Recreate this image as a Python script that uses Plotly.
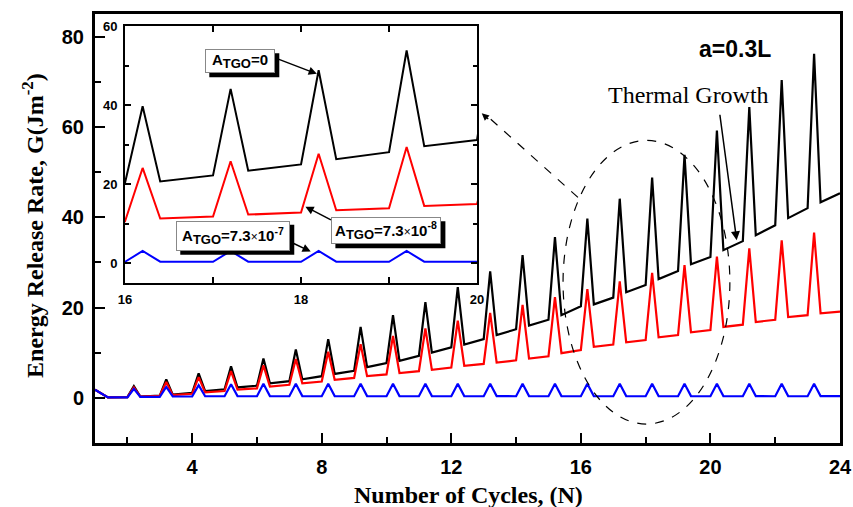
import plotly.graph_objects as go

# Cycle numbers; each cycle has a base point (n.0), a peak (n.2) and a drop (n.4)
cycles = [2, 3, 4, 5, 6, 7, 8, 9, 10, 11, 12, 13, 14, 15, 16, 17, 18, 19, 20, 21, 22, 23]
peak_offset = 0.2
drop_offset = 0.4

start_x = [1.0, 1.4]
end_x = 24.0

# A_TGO = 0
black_start = [1.8, 0.1]
black_pre = [0.15, 0.5, 1.1, 1.9, 2.7, 3.7, 4.8, 6.0, 7.7, 9.3, 11.2, 13.0, 15.2, 17.3,
             20.3, 22.2, 25.0, 28.1, 31.2, 34.7, 38.2, 42.0]
black_peak = [2.6, 4.1, 5.4, 7.0, 8.7, 10.7, 13.0, 15.7, 18.3, 21.2, 24.5, 28.0, 31.6, 35.6,
              39.7, 44.1, 48.8, 53.8, 59.2, 64.4, 70.4, 76.2]
black_post = [0.3, 0.7, 1.5, 2.3, 3.2, 4.1, 5.3, 6.8, 8.2, 10.0, 11.8, 13.9, 16.0, 18.3,
              20.7, 23.4, 26.3, 29.6, 32.7, 36.0, 39.8, 43.3]
black_end = 45.3

# A_TGO = 7.3e-8
red_start = [1.8, 0.1]
red_pre = [0.15, 0.45, 0.9, 1.5, 2.1, 2.9, 3.6, 4.4, 5.2, 5.9, 6.7, 7.5, 8.3, 9.2,
           10.6, 11.8, 12.8, 13.9, 15.0, 16.2, 17.3, 18.3]
red_peak = [2.3, 3.5, 4.6, 5.9, 7.2, 8.6, 10.2, 11.9, 13.7, 15.4, 17.1, 18.8, 20.6, 22.3,
            24.1, 25.8, 27.7, 29.4, 31.3, 33.1, 34.9, 36.6]
red_post = [0.25, 0.6, 1.2, 1.8, 2.5, 3.2, 4.0, 4.8, 5.5, 6.2, 7.1, 7.8, 8.7, 9.9,
            11.3, 12.3, 13.4, 14.5, 15.7, 16.8, 17.9, 18.7]
red_end = 19.1

# A_TGO = 7.3e-7
blue_start = [1.8, 0.1]
blue_pre = [0.1, 0.2, 0.3, 0.35, 0.35, 0.35, 0.35, 0.35, 0.35, 0.35, 0.35, 0.35, 0.35, 0.35,
            0.35, 0.35, 0.35, 0.35, 0.35, 0.35, 0.35, 0.35]
blue_peak = [2.0, 2.4, 2.8, 3.0, 3.1, 3.1, 3.1, 3.1, 3.1, 3.1, 3.1, 3.1, 3.1, 3.1,
             3.1, 3.1, 3.1, 3.1, 3.1, 3.1, 3.1, 3.1]
blue_post = [0.2, 0.3, 0.35, 0.4, 0.4, 0.4, 0.4, 0.4, 0.4, 0.4, 0.4, 0.4, 0.4, 0.4,
             0.4, 0.4, 0.4, 0.4, 0.4, 0.4, 0.4, 0.4]
blue_end = 0.4


def series(start, pre, peak, post, end):
    xs, ys = list(start_x), list(start)
    for n, a, b, c in zip(cycles, pre, peak, post):
        xs += [n, n + peak_offset, n + drop_offset]
        ys += [a, b, c]
    xs.append(end_x)
    ys.append(end)
    return xs, ys


curves = [
    (series(black_start, black_pre, black_peak, black_post, black_end), "#000000", "A_TGO=0"),
    (series(red_start, red_pre, red_peak, red_post, red_end), "#ff0000", "A_TGO=7.3e-8"),
    (series(blue_start, blue_pre, blue_peak, blue_post, blue_end), "#0000ff", "A_TGO=7.3e-7"),
]

fig = go.Figure()
for (xs, ys), color, name in curves:
    fig.add_trace(go.Scatter(x=xs, y=ys, mode="lines", name=name,
                             line=dict(color=color, width=2.2), xaxis="x", yaxis="y"))
for (xs, ys), color, name in curves:
    fig.add_trace(go.Scatter(x=xs, y=ys, mode="lines", name=name + " (zoom)",
                             line=dict(color=color, width=2), xaxis="x2", yaxis="y2"))

tick_font = dict(family="Liberation Sans, Arial", size=20, color="black", weight="bold")
inset_font = dict(family="Liberation Sans, Arial", size=13, color="black", weight="bold")
serif_bold = dict(family="Liberation Serif, Times New Roman", size=24, color="black", weight="bold")

fig.update_layout(
    width=853, height=507,
    margin=dict(l=95, r=13, t=14, b=64, autoexpand=False),
    paper_bgcolor="white", plot_bgcolor="white",
    showlegend=False,
    xaxis=dict(range=[1, 24], tick0=0, dtick=4, ticks="inside", ticklen=10, tickwidth=2,
               tickcolor="black", showline=True, linewidth=3, linecolor="black", mirror=True,
               showgrid=False, zeroline=False, tickfont=tick_font, ticklabelstandoff=4,
               minor=dict(dtick=2, tick0=0, ticks="inside", ticklen=6, tickwidth=2,
                          tickcolor="black", showgrid=False)),
    yaxis=dict(range=[-10, 85], tick0=0, dtick=20, ticks="inside", ticklen=10, tickwidth=2,
               tickcolor="black", showline=True, linewidth=3, linecolor="black", mirror=True,
               showgrid=False, zeroline=False, tickfont=tick_font, ticklabelstandoff=4,
               minor=dict(dtick=10, tick0=0, ticks="inside", ticklen=6, tickwidth=2,
                          tickcolor="black", showgrid=False)),
    xaxis2=dict(domain=[0.0403, 0.5128], anchor="y2", range=[16, 20], tick0=16, dtick=2,
                ticks="inside", ticklen=6, tickwidth=1.5, tickcolor="black",
                showline=True, linewidth=2, linecolor="black", mirror="ticks",
                showgrid=False, zeroline=False, tickfont=inset_font, ticklabelstandoff=3,
                minor=dict(dtick=1, tick0=16, ticks="inside", ticklen=6, tickwidth=1.5,
                           tickcolor="black", showgrid=False)),
    yaxis2=dict(domain=[0.373, 0.972], anchor="x2", range=[-5, 60], tick0=0, dtick=20,
                ticks="inside", ticklen=6, tickwidth=1.5, tickcolor="black",
                showline=True, linewidth=2, linecolor="black", mirror="ticks",
                showgrid=False, zeroline=False, tickfont=inset_font, ticklabelstandoff=3,
                minor=dict(dtick=10, tick0=0, ticks="inside", ticklen=4, tickwidth=1.5,
                           tickcolor="black", showgrid=False)),
)

# Dashed ellipse around the zoomed cycles
fig.add_shape(type="circle", xref="x", yref="y", x0=15.45, x1=20.6, y0=-5.8, y1=57.0,
              line=dict(color="black", width=1.2, dash="dash"))
# Dashed leader from the ellipse to the inset
fig.add_shape(type="line", xref="x", yref="y", x0=15.91, y0=44.4, x1=13.2, y1=61.8,
              line=dict(color="black", width=1.2, dash="dash"))

annotations = []
annotations.append(dict(x=12.94, y=63.0, xref="x", yref="y", text="", showarrow=True,
                        ax=8, ay=7, arrowhead=2, arrowsize=1.2, arrowwidth=1.2,
                        arrowcolor="black"))

# Thermal growth label and arrow
annotations.append(dict(x=19.33, y=67.0, xref="x", yref="y", text="Thermal Growth",
                        showarrow=False,
                        font=dict(family="Liberation Serif, Times New Roman", size=24,
                                  color="black")))
annotations.append(dict(x=20.81, y=34.9, xref="x", yref="y", text="", showarrow=True,
                        ax=-17, ay=-127, arrowhead=2, arrowsize=1.2, arrowwidth=1.5,
                        arrowcolor="black"))
annotations.append(dict(x=20.75, y=77.3, xref="x", yref="y", text="a=0.3L", showarrow=False,
                        font=dict(family="Liberation Sans, Arial", size=23, color="black",
                                  weight="bold")))

# Axis titles
annotations.append(dict(x=0.5007, y=-0.122, xref="paper", yref="paper",
                        text="Number of Cycles, (N)", showarrow=False,
                        xanchor="center", yanchor="middle", font=serif_bold))
annotations.append(dict(x=-0.0832, y=0.506, xref="paper", yref="paper",
                        text="Energy Release Rate, G(Jm<sup>-2</sup>)", showarrow=False,
                        textangle=-90, xanchor="center", yanchor="middle", font=serif_bold))

# Labelled boxes (fixed pixel size) with a black drop shadow inside the inset
box_font = dict(family="Liberation Sans, Arial", size=15, color="black", weight="bold")
times = "<span style='font-weight:normal;font-size:12px'>×</span>"
sub = "<sub><span style='font-size:13px'>TGO</span></sub>"
boxes = [
    # text, x, y, box width, box height
    ("A" + sub + "=0", 17.31, 51.1, 70, 24),
    ("A" + sub + "=7.3" + times + "10<sup>-8</sup>", 18.97, 8.2, 110, 27),
    ("A" + sub + "=7.3" + times + "10<sup>-7</sup>", 17.23, 6.95, 114, 30),
]
shadow = 4
frame = 2  # border width + border pad
for text, bx, by, bw, bh in boxes:
    fig.add_shape(type="rect", xref="x2", yref="y2", xsizemode="pixel", ysizemode="pixel",
                  xanchor=bx, yanchor=by,
                  x0=-bw / 2 + shadow, x1=bw / 2 + shadow,
                  y0=-bh / 2 - shadow, y1=bh / 2 - shadow,
                  fillcolor="black", line=dict(width=0), layer="above")
    annotations.append(dict(x=bx, y=by, xref="x2", yref="y2", text=text, showarrow=False,
                            width=bw - 2 * frame, height=bh - 2 * frame, align="center",
                            valign="middle", bgcolor="white", bordercolor="#888888",
                            borderwidth=1, borderpad=1, font=box_font))

# Pointer arrows from the boxes to the curves
pointers = [(18.18, 47.9, -42, -16), (18.05, 14.3, 27, 14), (18.11, 2.95, -19, -9)]
for px, py, dx, dy in pointers:
    annotations.append(dict(x=px, y=py, xref="x2", yref="y2", text="", showarrow=True,
                            ax=dx, ay=dy, arrowhead=2, arrowsize=1.1, arrowwidth=1.5,
                            arrowcolor="black"))

fig.update_layout(annotations=annotations)
fig.write_html("out.html")
